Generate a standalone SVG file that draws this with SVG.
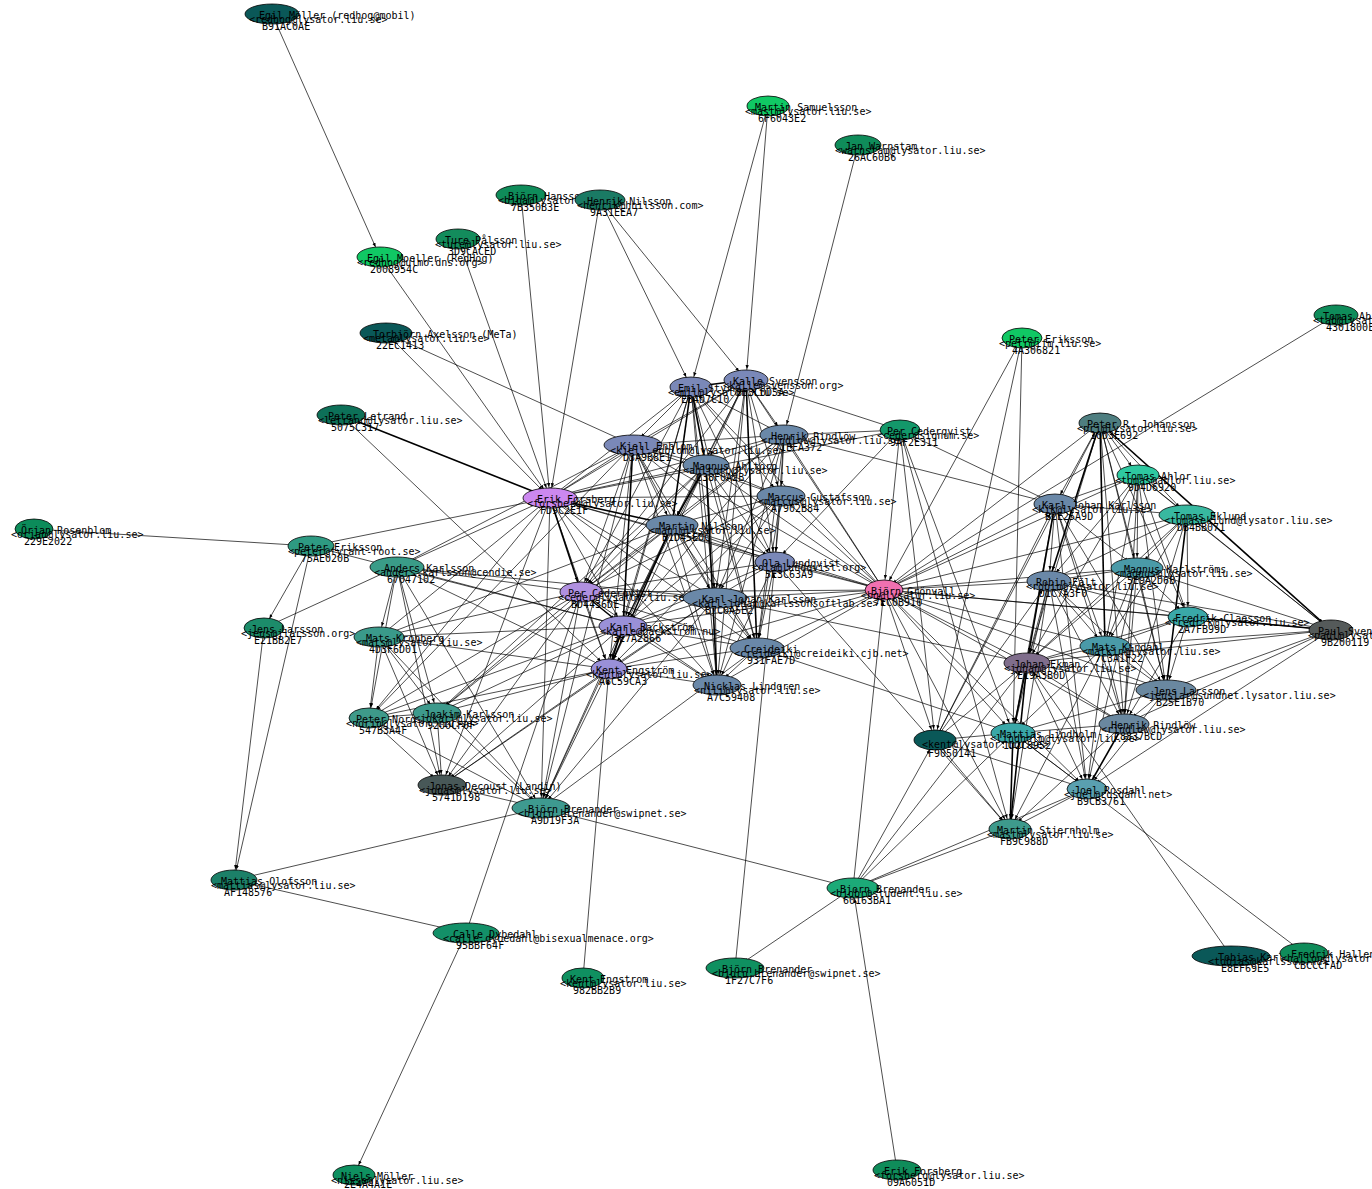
<svg xmlns="http://www.w3.org/2000/svg" width="1372" height="1189" viewBox="0 0 1372 1189">
<defs>
<marker id="a" viewBox="0 0 16 4" refX="15" refY="2" markerWidth="16" markerHeight="4" markerUnits="userSpaceOnUse" orient="auto"><path d="M0,0.3 L4,2 L0,3.7z" fill="#000"/></marker>
</defs>
<style>
#edges line{stroke:#000;stroke-width:0.7;fill:none;marker-end:url(#a)}
#edges line.t{stroke-width:1.6}
ellipse{stroke:#000;stroke-width:0.8}
text{font-family:"DejaVu Sans Mono","Liberation Mono",monospace;font-size:10px;fill:#000}
</style>
<rect width="1372" height="1189" fill="#fff"/>
<g id="edges">
<line x1="272" y1="14" x2="380" y2="257"/>
<line x1="380" y1="257" x2="550" y2="498"/>
<line x1="458" y1="239" x2="550" y2="498"/>
<line x1="521" y1="195" x2="550" y2="498"/>
<line x1="600" y1="200" x2="550" y2="498"/>
<line x1="600" y1="200" x2="691" y2="387"/>
<line x1="600" y1="200" x2="746" y2="380"/>
<line x1="768" y1="106" x2="691" y2="387"/>
<line x1="768" y1="106" x2="746" y2="380"/>
<line x1="858" y1="145" x2="784" y2="435"/>
<line x1="386" y1="333" x2="550" y2="498"/>
<line x1="386" y1="333" x2="633" y2="445"/>
<line class="t" x1="341" y1="415" x2="550" y2="498"/>
<line x1="341" y1="415" x2="609" y2="669"/>
<line x1="34" y1="529" x2="311" y2="546"/>
<line x1="311" y1="546" x2="550" y2="498"/>
<line x1="311" y1="546" x2="623" y2="626"/>
<line x1="311" y1="546" x2="264" y2="628"/>
<line x1="311" y1="546" x2="234" y2="880"/>
<line x1="264" y1="628" x2="397" y2="567"/>
<line x1="264" y1="628" x2="234" y2="880"/>
<line x1="541" y1="808" x2="234" y2="880"/>
<line x1="234" y1="880" x2="466" y2="933"/>
<line x1="466" y1="933" x2="354" y2="1175"/>
<line x1="466" y1="933" x2="581" y2="592"/>
<line x1="583" y1="978" x2="609" y2="669"/>
<line x1="853" y1="888" x2="735" y2="968"/>
<line x1="735" y1="968" x2="775" y2="562"/>
<line x1="897" y1="1170" x2="853" y2="888"/>
<line x1="853" y1="888" x2="541" y2="808"/>
<line x1="853" y1="888" x2="884" y2="590"/>
<line x1="853" y1="888" x2="935" y2="740"/>
<line x1="853" y1="888" x2="1013" y2="733"/>
<line x1="853" y1="888" x2="1010" y2="829"/>
<line x1="853" y1="888" x2="1087" y2="789"/>
<line x1="853" y1="888" x2="1027" y2="663"/>
<line x1="1231" y1="956" x2="1027" y2="663"/>
<line x1="1304" y1="953" x2="1013" y2="733"/>
<line x1="1336" y1="315" x2="884" y2="590"/>
<line x1="1022" y1="338" x2="1013" y2="733"/>
<line x1="1022" y1="338" x2="884" y2="590"/>
<line x1="1022" y1="338" x2="935" y2="740"/>
<line x1="397" y1="567" x2="550" y2="498"/>
<line x1="397" y1="567" x2="581" y2="592"/>
<line x1="397" y1="567" x2="623" y2="626"/>
<line x1="397" y1="567" x2="609" y2="669"/>
<line x1="397" y1="567" x2="379" y2="637"/>
<line x1="397" y1="567" x2="369" y2="718"/>
<line x1="397" y1="567" x2="437" y2="713"/>
<line x1="397" y1="567" x2="442" y2="785"/>
<line x1="397" y1="567" x2="541" y2="808"/>
<line x1="397" y1="567" x2="715" y2="598"/>
<line x1="397" y1="567" x2="633" y2="445"/>
<line x1="379" y1="637" x2="581" y2="592"/>
<line x1="379" y1="637" x2="623" y2="626"/>
<line x1="379" y1="637" x2="609" y2="669"/>
<line x1="379" y1="637" x2="369" y2="718"/>
<line x1="379" y1="637" x2="437" y2="713"/>
<line x1="379" y1="637" x2="442" y2="785"/>
<line x1="379" y1="637" x2="541" y2="808"/>
<line x1="379" y1="637" x2="550" y2="498"/>
<line x1="379" y1="637" x2="672" y2="525"/>
<line x1="369" y1="718" x2="437" y2="713"/>
<line x1="369" y1="718" x2="442" y2="785"/>
<line x1="369" y1="718" x2="541" y2="808"/>
<line x1="581" y1="592" x2="369" y2="718"/>
<line x1="609" y1="669" x2="369" y2="718"/>
<line x1="623" y1="626" x2="369" y2="718"/>
<line x1="633" y1="445" x2="369" y2="718"/>
<line x1="550" y1="498" x2="369" y2="718"/>
<line x1="437" y1="713" x2="442" y2="785"/>
<line x1="437" y1="713" x2="541" y2="808"/>
<line x1="609" y1="669" x2="437" y2="713"/>
<line x1="581" y1="592" x2="437" y2="713"/>
<line x1="623" y1="626" x2="437" y2="713"/>
<line x1="672" y1="525" x2="437" y2="713"/>
<line x1="706" y1="465" x2="437" y2="713"/>
<line x1="442" y1="785" x2="541" y2="808"/>
<line x1="609" y1="669" x2="442" y2="785"/>
<line x1="623" y1="626" x2="442" y2="785"/>
<line x1="581" y1="592" x2="442" y2="785"/>
<line x1="550" y1="498" x2="442" y2="785"/>
<line x1="715" y1="598" x2="442" y2="785"/>
<line x1="609" y1="669" x2="541" y2="808"/>
<line x1="581" y1="592" x2="541" y2="808"/>
<line x1="623" y1="626" x2="541" y2="808"/>
<line x1="550" y1="498" x2="541" y2="808"/>
<line x1="672" y1="525" x2="541" y2="808"/>
<line x1="715" y1="598" x2="541" y2="808"/>
<line x1="633" y1="445" x2="541" y2="808"/>
<line x1="757" y1="648" x2="541" y2="808"/>
<line class="t" x1="550" y1="498" x2="581" y2="592"/>
<line x1="550" y1="498" x2="623" y2="626"/>
<line x1="550" y1="498" x2="609" y2="669"/>
<line x1="550" y1="498" x2="691" y2="387"/>
<line x1="550" y1="498" x2="746" y2="380"/>
<line x1="550" y1="498" x2="633" y2="445"/>
<line x1="550" y1="498" x2="784" y2="435"/>
<line x1="550" y1="498" x2="706" y2="465"/>
<line x1="550" y1="498" x2="781" y2="496"/>
<line class="t" x1="550" y1="498" x2="672" y2="525"/>
<line x1="550" y1="498" x2="775" y2="562"/>
<line x1="550" y1="498" x2="715" y2="598"/>
<line x1="550" y1="498" x2="757" y2="648"/>
<line x1="550" y1="498" x2="717" y2="685"/>
<line x1="550" y1="498" x2="900" y2="430"/>
<line x1="550" y1="498" x2="884" y2="590"/>
<line class="t" x1="691" y1="387" x2="746" y2="380"/>
<line x1="691" y1="387" x2="633" y2="445"/>
<line x1="691" y1="387" x2="784" y2="435"/>
<line class="t" x1="691" y1="387" x2="706" y2="465"/>
<line x1="691" y1="387" x2="781" y2="496"/>
<line class="t" x1="691" y1="387" x2="672" y2="525"/>
<line x1="691" y1="387" x2="775" y2="562"/>
<line x1="691" y1="387" x2="581" y2="592"/>
<line x1="691" y1="387" x2="715" y2="598"/>
<line x1="691" y1="387" x2="623" y2="626"/>
<line x1="691" y1="387" x2="609" y2="669"/>
<line x1="691" y1="387" x2="757" y2="648"/>
<line x1="691" y1="387" x2="717" y2="685"/>
<line x1="746" y1="380" x2="633" y2="445"/>
<line x1="746" y1="380" x2="784" y2="435"/>
<line x1="746" y1="380" x2="706" y2="465"/>
<line x1="746" y1="380" x2="781" y2="496"/>
<line x1="746" y1="380" x2="672" y2="525"/>
<line x1="746" y1="380" x2="775" y2="562"/>
<line x1="746" y1="380" x2="715" y2="598"/>
<line class="t" x1="746" y1="380" x2="757" y2="648"/>
<line x1="746" y1="380" x2="717" y2="685"/>
<line x1="746" y1="380" x2="581" y2="592"/>
<line x1="746" y1="380" x2="623" y2="626"/>
<line x1="633" y1="445" x2="784" y2="435"/>
<line x1="633" y1="445" x2="706" y2="465"/>
<line x1="633" y1="445" x2="781" y2="496"/>
<line x1="633" y1="445" x2="672" y2="525"/>
<line x1="633" y1="445" x2="775" y2="562"/>
<line x1="633" y1="445" x2="581" y2="592"/>
<line x1="633" y1="445" x2="715" y2="598"/>
<line class="t" x1="633" y1="445" x2="623" y2="626"/>
<line x1="633" y1="445" x2="609" y2="669"/>
<line x1="633" y1="445" x2="757" y2="648"/>
<line x1="633" y1="445" x2="717" y2="685"/>
<line x1="784" y1="435" x2="706" y2="465"/>
<line x1="784" y1="435" x2="781" y2="496"/>
<line x1="784" y1="435" x2="672" y2="525"/>
<line x1="784" y1="435" x2="775" y2="562"/>
<line x1="784" y1="435" x2="581" y2="592"/>
<line x1="784" y1="435" x2="715" y2="598"/>
<line x1="784" y1="435" x2="623" y2="626"/>
<line x1="784" y1="435" x2="757" y2="648"/>
<line x1="784" y1="435" x2="717" y2="685"/>
<line x1="706" y1="465" x2="781" y2="496"/>
<line class="t" x1="706" y1="465" x2="672" y2="525"/>
<line x1="706" y1="465" x2="775" y2="562"/>
<line x1="706" y1="465" x2="581" y2="592"/>
<line x1="706" y1="465" x2="715" y2="598"/>
<line x1="706" y1="465" x2="623" y2="626"/>
<line x1="706" y1="465" x2="609" y2="669"/>
<line x1="706" y1="465" x2="757" y2="648"/>
<line class="t" x1="706" y1="465" x2="717" y2="685"/>
<line x1="781" y1="496" x2="672" y2="525"/>
<line x1="781" y1="496" x2="775" y2="562"/>
<line x1="781" y1="496" x2="581" y2="592"/>
<line x1="781" y1="496" x2="715" y2="598"/>
<line x1="781" y1="496" x2="623" y2="626"/>
<line x1="781" y1="496" x2="609" y2="669"/>
<line x1="781" y1="496" x2="757" y2="648"/>
<line x1="672" y1="525" x2="775" y2="562"/>
<line x1="672" y1="525" x2="581" y2="592"/>
<line x1="672" y1="525" x2="715" y2="598"/>
<line x1="672" y1="525" x2="623" y2="626"/>
<line class="t" x1="672" y1="525" x2="609" y2="669"/>
<line x1="672" y1="525" x2="757" y2="648"/>
<line x1="672" y1="525" x2="717" y2="685"/>
<line x1="775" y1="562" x2="581" y2="592"/>
<line x1="775" y1="562" x2="715" y2="598"/>
<line x1="775" y1="562" x2="623" y2="626"/>
<line x1="775" y1="562" x2="757" y2="648"/>
<line x1="775" y1="562" x2="717" y2="685"/>
<line x1="581" y1="592" x2="715" y2="598"/>
<line class="t" x1="581" y1="592" x2="623" y2="626"/>
<line x1="581" y1="592" x2="609" y2="669"/>
<line x1="581" y1="592" x2="757" y2="648"/>
<line x1="581" y1="592" x2="717" y2="685"/>
<line x1="715" y1="598" x2="623" y2="626"/>
<line x1="715" y1="598" x2="609" y2="669"/>
<line x1="715" y1="598" x2="757" y2="648"/>
<line x1="715" y1="598" x2="717" y2="685"/>
<line class="t" x1="623" y1="626" x2="609" y2="669"/>
<line x1="623" y1="626" x2="757" y2="648"/>
<line x1="623" y1="626" x2="717" y2="685"/>
<line x1="609" y1="669" x2="757" y2="648"/>
<line x1="609" y1="669" x2="717" y2="685"/>
<line x1="757" y1="648" x2="717" y2="685"/>
<line x1="884" y1="590" x2="691" y2="387"/>
<line x1="884" y1="590" x2="746" y2="380"/>
<line x1="884" y1="590" x2="633" y2="445"/>
<line x1="884" y1="590" x2="784" y2="435"/>
<line x1="884" y1="590" x2="706" y2="465"/>
<line x1="884" y1="590" x2="781" y2="496"/>
<line x1="884" y1="590" x2="672" y2="525"/>
<line x1="884" y1="590" x2="775" y2="562"/>
<line x1="884" y1="590" x2="581" y2="592"/>
<line x1="884" y1="590" x2="715" y2="598"/>
<line x1="884" y1="590" x2="623" y2="626"/>
<line x1="884" y1="590" x2="609" y2="669"/>
<line x1="884" y1="590" x2="757" y2="648"/>
<line x1="884" y1="590" x2="717" y2="685"/>
<line x1="900" y1="430" x2="884" y2="590"/>
<line x1="1100" y1="423" x2="884" y2="590"/>
<line x1="1138" y1="475" x2="884" y2="590"/>
<line x1="1055" y1="504" x2="884" y2="590"/>
<line x1="1187" y1="515" x2="884" y2="590"/>
<line x1="1137" y1="568" x2="884" y2="590"/>
<line x1="1049" y1="581" x2="884" y2="590"/>
<line x1="1188" y1="617" x2="884" y2="590"/>
<line x1="1027" y1="663" x2="884" y2="590"/>
<line x1="1105" y1="646" x2="884" y2="590"/>
<line x1="1166" y1="690" x2="884" y2="590"/>
<line x1="1124" y1="724" x2="884" y2="590"/>
<line x1="884" y1="590" x2="935" y2="740"/>
<line x1="884" y1="590" x2="1013" y2="733"/>
<line x1="884" y1="590" x2="1087" y2="789"/>
<line x1="884" y1="590" x2="1010" y2="829"/>
<line x1="1331" y1="630" x2="884" y2="590"/>
<line x1="900" y1="430" x2="746" y2="380"/>
<line x1="900" y1="430" x2="784" y2="435"/>
<line x1="900" y1="430" x2="1055" y2="504"/>
<line x1="900" y1="430" x2="935" y2="740"/>
<line x1="900" y1="430" x2="1010" y2="829"/>
<line x1="900" y1="430" x2="1013" y2="733"/>
<line x1="900" y1="430" x2="775" y2="562"/>
<line x1="935" y1="740" x2="1027" y2="663"/>
<line x1="935" y1="740" x2="1013" y2="733"/>
<line x1="935" y1="740" x2="1010" y2="829"/>
<line x1="935" y1="740" x2="1087" y2="789"/>
<line x1="935" y1="740" x2="1055" y2="504"/>
<line x1="935" y1="740" x2="1049" y2="581"/>
<line x1="935" y1="740" x2="1100" y2="423"/>
<line x1="1100" y1="423" x2="1138" y2="475"/>
<line x1="1100" y1="423" x2="1055" y2="504"/>
<line x1="1100" y1="423" x2="1187" y2="515"/>
<line x1="1100" y1="423" x2="1137" y2="568"/>
<line class="t" x1="1100" y1="423" x2="1049" y2="581"/>
<line x1="1100" y1="423" x2="1027" y2="663"/>
<line class="t" x1="1100" y1="423" x2="1105" y2="646"/>
<line x1="1100" y1="423" x2="1166" y2="690"/>
<line x1="1100" y1="423" x2="1124" y2="724"/>
<line x1="1100" y1="423" x2="1188" y2="617"/>
<line class="t" x1="1100" y1="423" x2="1331" y2="630"/>
<line x1="1138" y1="475" x2="1055" y2="504"/>
<line x1="1138" y1="475" x2="1187" y2="515"/>
<line x1="1138" y1="475" x2="1137" y2="568"/>
<line x1="1138" y1="475" x2="1049" y2="581"/>
<line x1="1138" y1="475" x2="1027" y2="663"/>
<line x1="1138" y1="475" x2="1105" y2="646"/>
<line x1="1138" y1="475" x2="1166" y2="690"/>
<line x1="1138" y1="475" x2="1124" y2="724"/>
<line x1="1138" y1="475" x2="1188" y2="617"/>
<line x1="1138" y1="475" x2="1331" y2="630"/>
<line x1="1055" y1="504" x2="1049" y2="581"/>
<line x1="1055" y1="504" x2="1137" y2="568"/>
<line class="t" x1="1055" y1="504" x2="1027" y2="663"/>
<line x1="1055" y1="504" x2="1105" y2="646"/>
<line x1="1055" y1="504" x2="1166" y2="690"/>
<line x1="1055" y1="504" x2="1124" y2="724"/>
<line x1="1055" y1="504" x2="1013" y2="733"/>
<line x1="1055" y1="504" x2="1087" y2="789"/>
<line x1="1055" y1="504" x2="1187" y2="515"/>
<line x1="1187" y1="515" x2="1137" y2="568"/>
<line x1="1187" y1="515" x2="1049" y2="581"/>
<line x1="1187" y1="515" x2="1188" y2="617"/>
<line x1="1187" y1="515" x2="1105" y2="646"/>
<line class="t" x1="1187" y1="515" x2="1166" y2="690"/>
<line x1="1187" y1="515" x2="1124" y2="724"/>
<line x1="1187" y1="515" x2="1027" y2="663"/>
<line x1="1187" y1="515" x2="1331" y2="630"/>
<line x1="1137" y1="568" x2="1049" y2="581"/>
<line x1="1137" y1="568" x2="1188" y2="617"/>
<line x1="1137" y1="568" x2="1027" y2="663"/>
<line x1="1137" y1="568" x2="1105" y2="646"/>
<line x1="1137" y1="568" x2="1166" y2="690"/>
<line x1="1137" y1="568" x2="1124" y2="724"/>
<line x1="1137" y1="568" x2="1087" y2="789"/>
<line x1="1137" y1="568" x2="1331" y2="630"/>
<line x1="1049" y1="581" x2="1188" y2="617"/>
<line x1="1049" y1="581" x2="1027" y2="663"/>
<line x1="1049" y1="581" x2="1105" y2="646"/>
<line x1="1049" y1="581" x2="1166" y2="690"/>
<line x1="1049" y1="581" x2="1124" y2="724"/>
<line x1="1049" y1="581" x2="1013" y2="733"/>
<line x1="1049" y1="581" x2="1087" y2="789"/>
<line x1="1049" y1="581" x2="1010" y2="829"/>
<line x1="1188" y1="617" x2="1105" y2="646"/>
<line x1="1188" y1="617" x2="1166" y2="690"/>
<line x1="1188" y1="617" x2="1124" y2="724"/>
<line x1="1188" y1="617" x2="1027" y2="663"/>
<line class="t" x1="1188" y1="617" x2="1331" y2="630"/>
<line x1="1027" y1="663" x2="1105" y2="646"/>
<line x1="1027" y1="663" x2="1166" y2="690"/>
<line x1="1027" y1="663" x2="1124" y2="724"/>
<line class="t" x1="1027" y1="663" x2="1013" y2="733"/>
<line x1="1027" y1="663" x2="1087" y2="789"/>
<line class="t" x1="1027" y1="663" x2="1010" y2="829"/>
<line x1="1105" y1="646" x2="1166" y2="690"/>
<line x1="1105" y1="646" x2="1124" y2="724"/>
<line x1="1105" y1="646" x2="1013" y2="733"/>
<line x1="1105" y1="646" x2="1087" y2="789"/>
<line x1="1105" y1="646" x2="1010" y2="829"/>
<line x1="1105" y1="646" x2="1331" y2="630"/>
<line x1="1166" y1="690" x2="1124" y2="724"/>
<line x1="1166" y1="690" x2="1013" y2="733"/>
<line x1="1166" y1="690" x2="1087" y2="789"/>
<line x1="1166" y1="690" x2="1331" y2="630"/>
<line x1="1124" y1="724" x2="1013" y2="733"/>
<line class="t" x1="1124" y1="724" x2="1087" y2="789"/>
<line x1="1124" y1="724" x2="1010" y2="829"/>
<line x1="1124" y1="724" x2="1331" y2="630"/>
<line x1="1013" y1="733" x2="1087" y2="789"/>
<line class="t" x1="1013" y1="733" x2="1010" y2="829"/>
<line x1="1087" y1="789" x2="1010" y2="829"/>
<line x1="1331" y1="630" x2="1087" y2="789"/>
<line x1="1331" y1="630" x2="1049" y2="581"/>
<line x1="1331" y1="630" x2="1027" y2="663"/>
<line x1="715" y1="598" x2="1027" y2="663"/>
<line x1="775" y1="562" x2="1010" y2="829"/>
<line x1="757" y1="648" x2="1013" y2="733"/>
<line x1="784" y1="435" x2="1055" y2="504"/>
</g>
<g id="n-egil-mobil"><ellipse cx="272" cy="14" rx="27" ry="10" fill="#0a5858"/><text x="259" y="19">Egil Möller (redhog@mobil)</text><text x="249" y="23">&lt;redhog@lysator.liu.se&gt;</text><text x="262" y="30">B91AC0AE</text></g>
<g id="n-martin-samuelsson"><ellipse cx="768" cy="106" rx="21" ry="10" fill="#10c864"/><text x="755" y="111">Martin Samuelsson</text><text x="745" y="115">&lt;mast@lysator.liu.se&gt;</text><text x="758" y="122">6F6043E2</text></g>
<g id="n-jan-warnstam"><ellipse cx="858" cy="145" rx="23" ry="10" fill="#0f8c5a"/><text x="845" y="150">Jan Warnstam</text><text x="835" y="154">&lt;warnstam@lysator.liu.se&gt;</text><text x="848" y="161">26AC60B6</text></g>
<g id="n-bjorn-hansson"><ellipse cx="521" cy="195" rx="25" ry="10" fill="#0f8c5a"/><text x="508" y="200">Björn Hansson</text><text x="498" y="204">&lt;bjha@lysator.liu.se&gt;</text><text x="511" y="211">7B350B3E</text></g>
<g id="n-henrik-nilsson"><ellipse cx="600" cy="200" rx="25" ry="10" fill="#1a7a64"/><text x="587" y="205">Henrik Nilsson</text><text x="577" y="209">&lt;henrik@hnilsson.com&gt;</text><text x="590" y="216">9A31EEA7</text></g>
<g id="n-ture-palsson"><ellipse cx="458" cy="239" rx="22" ry="10" fill="#138c5c"/><text x="445" y="244">Ture Pålsson</text><text x="435" y="248">&lt;ture@lysator.liu.se&gt;</text><text x="448" y="255">3D9CACED</text></g>
<g id="n-egil-moeller"><ellipse cx="380" cy="257" rx="23" ry="10" fill="#10c864"/><text x="367" y="262">Egil Moeller (RedHog)</text><text x="357" y="266">&lt;redhog@ulmo.dns.org&gt;</text><text x="370" y="273">2008954C</text></g>
<g id="n-torbjorn-axelsson"><ellipse cx="386" cy="333" rx="26" ry="10" fill="#0a5858"/><text x="373" y="338">Torbjörn Axelsson (MeTa)</text><text x="363" y="342">&lt;meta@lysator.liu.se&gt;</text><text x="376" y="349">22EC1413</text></g>
<g id="n-peter-letrand"><ellipse cx="341" cy="415" rx="24" ry="10" fill="#0d7058"/><text x="328" y="420">Peter Letrand</text><text x="318" y="424">&lt;letrand@lysator.liu.se&gt;</text><text x="331" y="431">5075C317</text></g>
<g id="n-orjan-rosenblom"><ellipse cx="34" cy="529" rx="19" ry="10" fill="#0c8c5a"/><text x="21" y="534">Örjan Rosenblom</text><text x="11" y="538">&lt;orjan@lysator.liu.se&gt;</text><text x="24" y="545">229E2022</text></g>
<g id="n-peter-eriksson-1"><ellipse cx="311" cy="546" rx="23" ry="10" fill="#2e9a82"/><text x="298" y="551">Peter Eriksson</text><text x="288" y="555">&lt;peter@tyrant-root.se&gt;</text><text x="301" y="562">75AE020B</text></g>
<g id="n-anders-karlsson"><ellipse cx="397" cy="567" rx="27" ry="10" fill="#3a9c88"/><text x="384" y="572">Anders Karlsson</text><text x="374" y="576">&lt;anders.karlsson@cendie.se&gt;</text><text x="387" y="583">67047102</text></g>
<g id="n-jens-larsson-1"><ellipse cx="264" cy="628" rx="20" ry="10" fill="#1c8c6a"/><text x="251" y="633">Jens Larsson</text><text x="241" y="637">&lt;jens@jlarsson.org&gt;</text><text x="254" y="644">E21BB2E7</text></g>
<g id="n-mats-kronberg"><ellipse cx="379" cy="637" rx="25" ry="10" fill="#3a9a8a"/><text x="366" y="642">Mats Kronberg</text><text x="356" y="646">&lt;mats@lysator.liu.se&gt;</text><text x="369" y="653">4D3F6D01</text></g>
<g id="n-peter-nordin"><ellipse cx="369" cy="718" rx="20" ry="10" fill="#3e9a8a"/><text x="356" y="723">Peter Nordin</text><text x="346" y="727">&lt;norin@lysator.liu.se&gt;</text><text x="359" y="734">547B3A4F</text></g>
<g id="n-joakim-karlsson"><ellipse cx="437" cy="713" rx="24" ry="10" fill="#3e9a8c"/><text x="424" y="718">Joakim Karlsson</text><text x="414" y="722">&lt;jokarl@lysator.liu.se&gt;</text><text x="427" y="729">9200CF0F</text></g>
<g id="n-jonas-decoust"><ellipse cx="442" cy="785" rx="24" ry="10" fill="#485858"/><text x="429" y="790">Jonas Decoust (Landin)</text><text x="419" y="794">&lt;jonas@lysator.liu.se&gt;</text><text x="432" y="801">5741D198</text></g>
<g id="n-bjorn-brenander-1"><ellipse cx="541" cy="808" rx="29" ry="10" fill="#3e9a90"/><text x="528" y="813">Björn Brenander</text><text x="518" y="817">&lt;bjorn.brenander@swipnet.se&gt;</text><text x="531" y="824">A9D19F3A</text></g>
<g id="n-mattias-olofsson"><ellipse cx="234" cy="880" rx="23" ry="10" fill="#1c8068"/><text x="221" y="885">Mattias Olofsson</text><text x="211" y="889">&lt;mattias@lysator.liu.se&gt;</text><text x="224" y="896">AF148576</text></g>
<g id="n-calle-dybedahl"><ellipse cx="466" cy="933" rx="33" ry="10" fill="#139068"/><text x="453" y="938">Calle Dybedahl</text><text x="443" y="942">&lt;calle.dybedahl@bisexualmenace.org&gt;</text><text x="456" y="949">95BBF64F</text></g>
<g id="n-kent-engstrom-2"><ellipse cx="583" cy="978" rx="21" ry="10" fill="#0f9060"/><text x="570" y="983">Kent Engstrom</text><text x="560" y="987">&lt;kent@lysator.liu.se&gt;</text><text x="573" y="994">982BB2B9</text></g>
<g id="n-niels-moller"><ellipse cx="354" cy="1175" rx="21" ry="10" fill="#0f9060"/><text x="341" y="1180">Niels Möller</text><text x="331" y="1184">&lt;nisse@lysator.liu.se&gt;</text><text x="344" y="1188">2E4A4A1E</text></g>
<g id="n-bjorn-brenander-2"><ellipse cx="735" cy="968" rx="29" ry="10" fill="#0f9060"/><text x="722" y="973">Björn Brenander</text><text x="712" y="977">&lt;bjorn.brenander@swipnet.se&gt;</text><text x="725" y="984">1F27C7F6</text></g>
<g id="n-bjorn-brenander-3"><ellipse cx="853" cy="888" rx="26" ry="10" fill="#1caa78"/><text x="840" y="893">Bjorn Brenander</text><text x="830" y="897">&lt;bjobr@student.liu.se&gt;</text><text x="843" y="904">60163BA1</text></g>
<g id="n-erik-forsberg-2"><ellipse cx="897" cy="1170" rx="24" ry="10" fill="#0f8c5a"/><text x="884" y="1175">Erik Forsberg</text><text x="874" y="1179">&lt;forsberg@lysator.liu.se&gt;</text><text x="887" y="1186">09A6051D</text></g>
<g id="n-tobias-karlsson"><ellipse cx="1231" cy="956" rx="39" ry="10" fill="#0a5858"/><text x="1218" y="961">Tobias Karlsson</text><text x="1208" y="965">&lt;tobias@karlsson.nu&gt;</text><text x="1221" y="972">E8EF69E5</text></g>
<g id="n-fredrik-hallenberg"><ellipse cx="1304" cy="953" rx="24" ry="10" fill="#0f8c5a"/><text x="1291" y="958">Fredrik Hallenberg</text><text x="1281" y="962">&lt;hallon@lysator.liu.se&gt;</text><text x="1294" y="969">CBCCCFAD</text></g>
<g id="n-paul-svensson"><ellipse cx="1331" cy="630" rx="22" ry="10" fill="#555a5a"/><text x="1318" y="635">Paul Svensson</text><text x="1308" y="639">&lt;paul@lysator.liu.se&gt;</text><text x="1321" y="646">9B200119</text></g>
<g id="n-tomas-abrahamsson"><ellipse cx="1336" cy="315" rx="22" ry="10" fill="#0f8c5a"/><text x="1323" y="320">Tomas Abrahamsson</text><text x="1313" y="324">&lt;tab@lysator.liu.se&gt;</text><text x="1326" y="331">4301800E</text></g>
<g id="n-peter-eriksson-2"><ellipse cx="1022" cy="338" rx="20" ry="10" fill="#10c864"/><text x="1009" y="343">Peter Eriksson</text><text x="999" y="347">&lt;petr@ifm.liu.se&gt;</text><text x="1012" y="354">4A306821</text></g>
<g id="n-per-cederqvist-2"><ellipse cx="900" cy="430" rx="20" ry="10" fill="#13986a"/><text x="887" y="435">Per Cederqvist</text><text x="877" y="439">&lt;ceder@signum.se&gt;</text><text x="890" y="446">9AF2E311</text></g>
<g id="n-peter-r-johansson"><ellipse cx="1100" cy="423" rx="21" ry="10" fill="#4e7e80"/><text x="1087" y="428">Peter R. Johansson</text><text x="1077" y="432">&lt;prj@lysator.liu.se&gt;</text><text x="1090" y="439">10D3E692</text></g>
<g id="n-tomas-ablor"><ellipse cx="1138" cy="475" rx="21" ry="10" fill="#2ec8a0"/><text x="1125" y="480">Tomas Ahlor</text><text x="1115" y="484">&lt;tomas@ablor.liu.se&gt;</text><text x="1128" y="491">9D4D6920</text></g>
<g id="n-karl-johan-karlsson-2"><ellipse cx="1055" cy="504" rx="21" ry="10" fill="#6a88a8"/><text x="1042" y="509">Karl-Johan Karlsson</text><text x="1032" y="513">&lt;kjk@lysator.liu.se&gt;</text><text x="1045" y="520">B2E25A9D</text></g>
<g id="n-tomas-eklund"><ellipse cx="1187" cy="515" rx="28" ry="10" fill="#38b8a0"/><text x="1174" y="520">Tomas Eklund</text><text x="1164" y="524">&lt;tomaseklund@lysator.liu.se&gt;</text><text x="1177" y="531">DB4BB071</text></g>
<g id="n-magnus-karlstrom"><ellipse cx="1137" cy="568" rx="26" ry="10" fill="#4a9aa8"/><text x="1124" y="573">Magnus Karlströms</text><text x="1114" y="577">&lt;magnus@lysator.liu.se&gt;</text><text x="1127" y="584">5E9A2D6B</text></g>
<g id="n-robin-falt"><ellipse cx="1049" cy="581" rx="22" ry="10" fill="#6a88a8"/><text x="1036" y="586">Robin Fält</text><text x="1026" y="590">&lt;robin@lysator.liu.se&gt;</text><text x="1039" y="597">D1C7A3F0</text></g>
<g id="n-fredrik-claesson"><ellipse cx="1188" cy="617" rx="20" ry="10" fill="#3aa8a8"/><text x="1175" y="622">Fredrik Claesson</text><text x="1165" y="626">&lt;fredrik@lysator.liu.se&gt;</text><text x="1178" y="633">2A7FB99D</text></g>
<g id="n-johan-ekman"><ellipse cx="1027" cy="663" rx="23" ry="10" fill="#806e8c"/><text x="1014" y="668">Johan Ekman</text><text x="1004" y="672">&lt;johan@lysator.liu.se&gt;</text><text x="1017" y="679">E19A3B0D</text></g>
<g id="n-mats-kindahl"><ellipse cx="1105" cy="646" rx="25" ry="10" fill="#4a9aa8"/><text x="1092" y="651">Mats Kindahl</text><text x="1082" y="655">&lt;matkin@lysator.liu.se&gt;</text><text x="1095" y="662">7C3A1F22</text></g>
<g id="n-jens-larsson-2"><ellipse cx="1166" cy="690" rx="30" ry="10" fill="#6a88a0"/><text x="1153" y="695">Jens Larsson</text><text x="1143" y="699">&lt;jenslar@sundnet.lysator.liu.se&gt;</text><text x="1156" y="706">B25E1B70</text></g>
<g id="n-henrik-rindlow-2"><ellipse cx="1124" cy="724" rx="25" ry="10" fill="#6a88a0"/><text x="1111" y="729">Henrik Rindlöw</text><text x="1101" y="733">&lt;rindlow@lysator.liu.se&gt;</text><text x="1114" y="740">C8837BCD</text></g>
<g id="n-kent-lysator"><ellipse cx="935" cy="740" rx="21" ry="10" fill="#0a5858"/><text x="922" y="748">&lt;kent@lysator.liu.se&gt;</text><text x="928" y="757">F9050141</text></g>
<g id="n-mattias-lindholm"><ellipse cx="1013" cy="733" rx="22" ry="10" fill="#3aa8a8"/><text x="1000" y="738">Mattias Lindholm</text><text x="990" y="742">&lt;lindholm@lysator.liu.se&gt;</text><text x="1003" y="749">1D2C8952</text></g>
<g id="n-joel-rosdahl"><ellipse cx="1087" cy="789" rx="20" ry="10" fill="#5aa0b0"/><text x="1074" y="794">Joel Rosdahl</text><text x="1064" y="798">&lt;joel@rosdahl.net&gt;</text><text x="1077" y="805">B9CB3761</text></g>
<g id="n-martin-stjernholm"><ellipse cx="1010" cy="829" rx="21" ry="10" fill="#3e9a8c"/><text x="997" y="834">Martin Stjernholm</text><text x="987" y="838">&lt;mast@lysator.liu.se&gt;</text><text x="1000" y="845">FB9C988D</text></g>
<g id="n-bjorn-gronvall"><ellipse cx="884" cy="590" rx="19" ry="10" fill="#f070b0"/><text x="871" y="595">Björn Grönvall</text><text x="861" y="599">&lt;bg@lysator.liu.se&gt;</text><text x="874" y="606">7EC0B910</text></g>
<g id="n-emil-styrke"><ellipse cx="691" cy="387" rx="21" ry="10" fill="#7a88b8"/><text x="678" y="392">Emil Styrke</text><text x="668" y="396">&lt;emil@lysator.liu.se&gt;</text><text x="681" y="403">EB4D7C10</text></g>
<g id="n-kalle-svensson"><ellipse cx="746" cy="380" rx="22" ry="10" fill="#7a88b8"/><text x="733" y="385">Kalle Svensson</text><text x="723" y="389">&lt;kalle@svensson.org&gt;</text><text x="736" y="396">8E3C0D5A</text></g>
<g id="n-kjell-enblom"><ellipse cx="633" cy="445" rx="29" ry="10" fill="#7a88b8"/><text x="620" y="450">Kjell Enblom</text><text x="610" y="454">&lt;kjell.enblom@lysator.liu.se&gt;</text><text x="623" y="461">D3A9B8E1</text></g>
<g id="n-henrik-rindlow-1"><ellipse cx="784" cy="435" rx="24" ry="10" fill="#6a88a8"/><text x="771" y="440">Henrik Rindlöw</text><text x="761" y="444">&lt;rindlow@lysator.liu.se&gt;</text><text x="774" y="451">71EFA372</text></g>
<g id="n-magnus-ahltorp"><ellipse cx="706" cy="465" rx="23" ry="10" fill="#6a88a8"/><text x="693" y="470">Magnus Ahltorp</text><text x="683" y="474">&lt;ahltorp@lysator.liu.se&gt;</text><text x="696" y="481">C38F0A2B</text></g>
<g id="n-marcus-gustafsson"><ellipse cx="781" cy="496" rx="24" ry="10" fill="#6a88a8"/><text x="768" y="501">Marcus Gustafsson</text><text x="758" y="505">&lt;marcus@lysator.liu.se&gt;</text><text x="771" y="512">A7902B84</text></g>
<g id="n-martin-nilsson"><ellipse cx="672" cy="525" rx="26" ry="10" fill="#6a88a8"/><text x="659" y="530">Martin Nilsson</text><text x="649" y="534">&lt;mani@lysator.liu.se&gt;</text><text x="662" y="541">B1D45E0C</text></g>
<g id="n-ola-lundqvist"><ellipse cx="775" cy="562" rx="20" ry="10" fill="#7a88b8"/><text x="762" y="567">Ola Lundqvist</text><text x="752" y="571">&lt;ola@lundqvist.org&gt;</text><text x="765" y="578">5E3C63A9</text></g>
<g id="n-erik-forsberg-1"><ellipse cx="550" cy="498" rx="27" ry="10" fill="#cc88f0"/><text x="537" y="503">Erik Forsberg</text><text x="527" y="507">&lt;forsberg@lysator.liu.se&gt;</text><text x="540" y="514">FD9C2E1F</text></g>
<g id="n-per-cederqvist-1"><ellipse cx="581" cy="592" rx="21" ry="10" fill="#b090e0"/><text x="568" y="597">Per Cederqvist</text><text x="558" y="601">&lt;ceder@lysator.liu.se&gt;</text><text x="571" y="608">BD4436DE</text></g>
<g id="n-karl-johan-karlsson-1"><ellipse cx="715" cy="598" rx="32" ry="10" fill="#6a88a8"/><text x="702" y="603">Karl-Johan Karlsson</text><text x="692" y="607">&lt;karl-johan@karlssonsoftlab.se&gt;</text><text x="705" y="614">B7C0A5E2</text></g>
<g id="n-karl-backstrom"><ellipse cx="623" cy="626" rx="24" ry="10" fill="#9a90d8"/><text x="610" y="631">Karl Backström</text><text x="600" y="635">&lt;kalle@backstrom.nu&gt;</text><text x="613" y="642">3E7A2866</text></g>
<g id="n-kent-engstrom-1"><ellipse cx="609" cy="669" rx="18" ry="10" fill="#9a90d8"/><text x="596" y="674">Kent Engström</text><text x="586" y="678">&lt;kent@lysator.liu.se&gt;</text><text x="599" y="685">A6C59CA3</text></g>
<g id="n-creideiki"><ellipse cx="757" cy="648" rx="27" ry="10" fill="#6a88a8"/><text x="744" y="653">Creideiki</text><text x="734" y="657">&lt;creideiki@creideiki.cjb.net&gt;</text><text x="747" y="664">931FAE7D</text></g>
<g id="n-nicklas-lindgren"><ellipse cx="717" cy="685" rx="24" ry="10" fill="#6a88a8"/><text x="704" y="690">Nicklas Lindgren</text><text x="694" y="694">&lt;nili@lysator.liu.se&gt;</text><text x="707" y="701">A7C59408</text></g>
</svg>
